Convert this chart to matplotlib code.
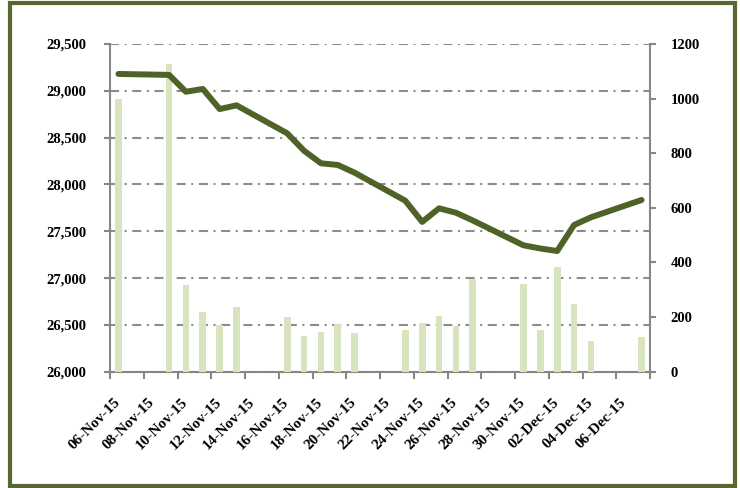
import matplotlib
matplotlib.use('Agg')
import matplotlib.pyplot as plt
import matplotlib.dates as mdates
import pandas as pd
from matplotlib.transforms import ScaledTranslation
from matplotlib.patches import Rectangle
from matplotlib.ticker import FuncFormatter

# ---------------- data ----------------
dates = ['2015-11-06', '2015-11-09', '2015-11-10', '2015-11-11', '2015-11-12', '2015-11-13',
         '2015-11-16', '2015-11-17', '2015-11-18', '2015-11-19', '2015-11-20',
         '2015-11-23', '2015-11-24', '2015-11-25', '2015-11-26', '2015-11-27',
         '2015-11-30', '2015-12-01', '2015-12-02', '2015-12-03', '2015-12-04',
         '2015-12-07']
index_close = [29180, 29170, 28990, 29020, 28805, 28845,
               28546, 28360, 28226, 28208, 28125,
               27826, 27600, 27745, 27698, 27615,
               27350, 27316, 27289, 27567, 27649,
               27834]
volume = [1000, 1127, 317, 217, 171, 237,
          201, 130, 144, 175, 142,
          154, 177, 204, 167, 338,
          320, 153, 383, 249, 112,
          127]
left_ticks = [26000, 26500, 27000, 27500, 28000, 28500, 29000, 29500]
right_ticks = [0, 200, 400, 600, 800, 1000, 1200]
x_start, x_end = '2015-11-06', '2015-12-08'

# ---------------- style ----------------
plt.rcParams['font.family'] = ['Liberation Serif', 'DejaVu Serif']
plt.rcParams['font.weight'] = 'bold'
plt.rcParams['lines.scale_dashes'] = False

line_color = '#4f6228'
bar_color = '#d7e4bd'
axis_gray = '#868686'
frame_color = '#58692f'

fig = plt.figure(figsize=(7.4, 4.88), dpi=100)
pos = [110 / 740, 1 - 371.7 / 488, 540 / 740, (371.7 - 44) / 488]
ax = fig.add_axes(pos)
ax_bar = ax.twinx()
ax_line = fig.add_axes(pos, sharex=ax, sharey=ax)
ax_line.set_axis_off()
ax_line.patch.set_visible(False)

day_dt = pd.to_datetime(dates) + pd.Timedelta(hours=12)
xnum = mdates.date2num(day_dt.to_pydatetime())

ax_bar.bar(xnum, volume, width=0.4, color=bar_color, zorder=2)
ax_line.plot(xnum, index_close, color=line_color, lw=4.3,
             solid_capstyle='round', solid_joinstyle='round')

# x axis
tick_days = pd.date_range(x_start, x_end, freq='2D')
tick_num = mdates.date2num(tick_days.to_pydatetime())
ax.set_xlim(tick_num[0], tick_num[-1])
ax.set_xticks(tick_num)
ax.set_xticklabels([''] * len(tick_num))
labels = [d.strftime('%d-%b-%y') for d in tick_days[:-1]] + ['']
lab_trans = ax.get_xaxis_transform() + ScaledTranslation(8 / 100, -28.5 / 100,
                                                         fig.dpi_scale_trans)
for xv, txt in zip(tick_num, labels):
    ax.text(xv, 0, txt, transform=lab_trans, rotation=45, ha='right', va='center',
            rotation_mode='anchor', fontsize=11, fontweight='bold', color='black',
            clip_on=False)

# y axes
ax.set_ylim(left_ticks[0], left_ticks[-1])
ax.set_yticks(left_ticks)
ax.yaxis.set_major_formatter(FuncFormatter(lambda v, p: f'{int(v):,}'))
ax_bar.set_ylim(right_ticks[0], right_ticks[-1])
ax_bar.set_yticks(right_ticks)

for lab in ax.get_yticklabels() + ax_bar.get_yticklabels():
    lab.set_fontsize(10.5)
    lab.set_fontweight('bold')

ax.tick_params(axis='y', direction='out', length=4, width=1.5, color=axis_gray,
               labelcolor='black', pad=13)
ax.tick_params(axis='x', direction='out', length=5, width=1.5, color=axis_gray)
ax_bar.tick_params(axis='y', direction='out', length=4, width=1.5, color=axis_gray,
                   labelcolor='black', pad=11)

# grid
ax.set_axisbelow(True)
ax.yaxis.grid(True, color='#8c8c8c', lw=1.5, linestyle=(0, (6.5, 4, 1.5, 4)))

# spines
for s in ['top', 'right']:
    ax.spines[s].set_visible(False)
for s in ['left', 'bottom']:
    ax.spines[s].set_color(axis_gray)
    ax.spines[s].set_linewidth(1.5)
for s in ['top', 'left', 'bottom']:
    ax_bar.spines[s].set_visible(False)
ax_bar.spines['right'].set_color(axis_gray)
ax_bar.spines['right'].set_linewidth(1.5)

# outer frame
frame = Rectangle((10 / 740, 2 / 488), 725 / 740, 483 / 488, transform=fig.transFigure,
                  fill=False, edgecolor=frame_color, linewidth=3, clip_on=False)
fig.patches.append(frame)

fig.savefig('out.png', dpi=100)
